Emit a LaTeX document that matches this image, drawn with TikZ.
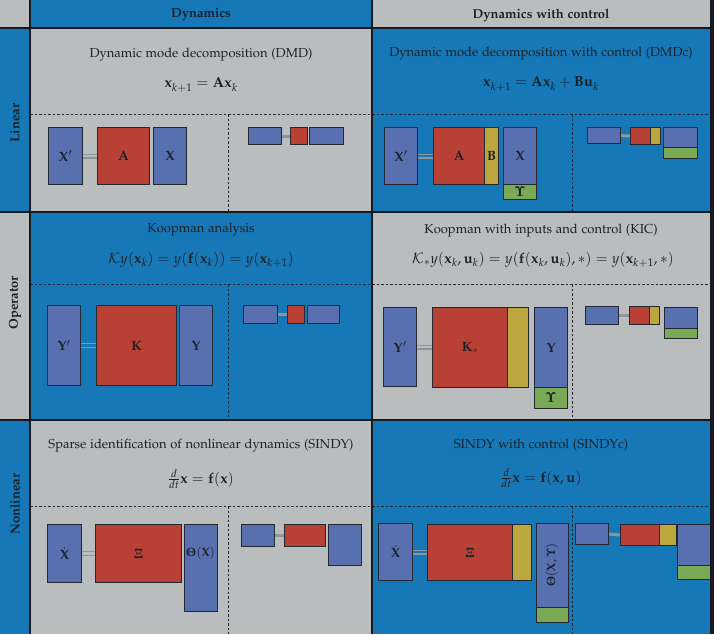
\documentclass[tikz,border=0pt]{standalone}
\usepackage[T1]{fontenc}
\usepackage[sc]{mathpazo}
\usepackage{amsmath}
\usepackage{amssymb}
\usepackage{xcolor}

\definecolor{cellblue}{RGB}{22,120,182}
\definecolor{cellgray}{RGB}{186,189,189}
\definecolor{mblue}{RGB}{88,112,176}
\definecolor{mred}{RGB}{184,64,52}
\definecolor{myellow}{RGB}{188,166,62}
\definecolor{mgreen}{RGB}{122,170,86}
\definecolor{edge}{RGB}{35,40,50}
\definecolor{gridline}{RGB}{22,26,32}
\definecolor{textdark}{RGB}{28,32,40}
\definecolor{eqgray}{RGB}{140,150,154}

\newcommand{\bUps}{\text{\fontencoding{OT1}\fontfamily{cmr}\bfseries\selectfont\char7}}

\begin{document}
\begin{tikzpicture}[x=1pt,y=-1pt,
    grid/.style={draw=gridline,line width=1.8pt},
    cutline/.style={draw=edge,line width=0.9pt,dash pattern=on 2.5pt off 2pt},
    mat/.style n args={3}{draw=edge,line width=1.1pt,fill=#1,minimum width=#2pt,minimum height=#3pt,
        inner sep=0pt,anchor=north west,text=textdark,font=\fontsize{13.5}{15}\selectfont},
    eqline/.style={draw=eqgray,line width=1.3pt},
    eqbar/.style={draw=eqgray,line width=3pt},
    title/.style={text=textdark,font=\fontsize{13}{15}\selectfont},
    eqn/.style={text=textdark,font=\fontsize{14.5}{16}\selectfont},
    head/.style={text=textdark,font=\fontsize{13}{15}\selectfont\bfseries}]

    \useasboundingbox (0,0) rectangle (714,634);

    % cells
    \fill[cellgray] (0,0) rectangle (30,28);
    \fill[cellblue] (30,0) rectangle (372,28);
    \fill[cellgray] (372,0) rectangle (714,28);
    \fill[cellblue] (0,28) rectangle (30,212);
    \fill[cellgray] (30,28) rectangle (372,212);
    \fill[cellblue] (372,28) rectangle (714,212);
    \fill[cellgray] (0,212) rectangle (30,420);
    \fill[cellblue] (30,212) rectangle (372,420);
    \fill[cellgray] (372,212) rectangle (714,420);
    \fill[cellblue] (0,420) rectangle (30,634);
    \fill[cellgray] (30,420) rectangle (372,634);
    \fill[cellblue] (372,420) rectangle (714,634);

    % dashed cuts
    \draw[cutline] (30,114) -- (710,114);
    \draw[cutline] (228,114) -- (228,212);
    \draw[cutline] (572,114) -- (572,212);
    \draw[cutline] (30,284) -- (710,284);
    \draw[cutline] (228,284) -- (228,420);
    \draw[cutline] (572,284) -- (572,420);
    \draw[cutline] (30,506) -- (710,506);
    \draw[cutline] (228,506) -- (228,634);
    \draw[cutline] (572,506) -- (572,634);

    % grid
    \draw[grid] (0,28) -- (714,28);
    \draw[grid] (0,212) -- (714,212);
    \draw[grid] (0,420) -- (714,420);
    \draw[grid] (30,0) -- (30,634);
    \draw[grid] (372,0) -- (372,634);

    % headers
    \node[head] (hdyn) at (201,15) {Dynamics};
    \node[head] (hctl) at (541,15) {Dynamics with control};
    \node[head,rotate=90] (hlin) at (15,123) {Linear};
    \node[head,rotate=90] (hop) at (15,303) {Operator};
    \node[head,rotate=90] (hnon) at (15,504) {Nonlinear};

    % Linear / dynamics
    \node[title] (t1) at (201,55) {Dynamic mode decomposition (DMD)};
    \node[eqn] (e1) at (201,85) {$\mathbf{x}_{k+1} = \mathbf{A}\mathbf{x}_k$};
    \node[mat={mblue}{34}{57}] (Xp1) at (48,127) {$\mathbf{X}'$};
    \node[mat={mred}{52}{57}] (A1) at (97,127) {$\mathbf{A}$};
    \node[mat={mblue}{33}{57}] (X1) at (153,127) {$\mathbf{X}$};
    \draw[eqline] ([yshift=1.8pt]Xp1.east) -- ([yshift=1.8pt]A1.west);
    \draw[eqline] ([yshift=-1.8pt]Xp1.east) -- ([yshift=-1.8pt]A1.west);
    \node[mat={mblue}{33}{17}] (sx1) at (248,127) {};
    \node[mat={mred}{17}{17}] (sa1) at (290,127) {};
    \node[mat={mblue}{34}{17}] (sy1) at (309,127) {};
    \draw[eqbar] (sx1.east) -- (sa1.west);

    % Linear / control
    \node[title] (t2) at (541,54) {Dynamic mode decomposition with control (DMDc)};
    \node[eqn] (e2) at (541,84) {$\mathbf{x}_{k+1} = \mathbf{A}\mathbf{x}_k + \mathbf{B}\mathbf{u}_k$};
    \node[mat={mblue}{33}{57}] (Xp2) at (384,127) {$\mathbf{X}'$};
    \node[mat={mred}{51}{57}] (A2) at (433,127) {$\mathbf{A}$};
    \node[mat={myellow}{14}{57}] (B2) at (484,127) {$\mathbf{B}$};
    \node[mat={mblue}{33}{57}] (X2) at (503,127) {$\mathbf{X}$};
    \node[mat={mgreen}{33}{15}] (U2) at (503,184) {$\bUps$};
    \draw[eqline] ([yshift=1.8pt]Xp2.east) -- ([yshift=1.8pt]A2.west);
    \draw[eqline] ([yshift=-1.8pt]Xp2.east) -- ([yshift=-1.8pt]A2.west);
    \node[mat={mblue}{33}{16}] (sx2) at (587,127) {};
    \node[mat={mred}{20}{17}] (sa2) at (630,127) {};
    \node[mat={myellow}{10}{17}] (sb2) at (650,127) {};
    \node[mat={mblue}{34}{20}] (sy2) at (663,127) {};
    \node[mat={mgreen}{34}{11}] (su2) at (663,147) {};
    \draw[eqbar] (sx2.east) -- (sa2.west);

    % Operator / dynamics
    \node[title] (t3) at (201,230) {Koopman analysis};
    \node[eqn] (e3) at (201,260) {$\mathcal{K}y(\mathbf{x}_k) = y(\mathbf{f}(\mathbf{x}_k)) = y(\mathbf{x}_{k+1})$};
    \node[mat={mblue}{33}{80}] (Yp3) at (47,305) {$\mathbf{Y}'$};
    \node[mat={mred}{80}{80}] (K3) at (96,305) {$\mathbf{K}$};
    \node[mat={mblue}{33}{80}] (Y3) at (179,305) {$\mathbf{Y}$};
    \draw[eqline] ([yshift=1.8pt]Yp3.east) -- ([yshift=1.8pt]K3.west);
    \draw[eqline] ([yshift=-1.8pt]Yp3.east) -- ([yshift=-1.8pt]K3.west);
    \node[mat={mblue}{34}{18}] (sx3) at (243,305) {};
    \node[mat={mred}{17}{18}] (sa3) at (287,305) {};
    \node[mat={mblue}{32}{18}] (sy3) at (307,305) {};
    \draw[eqbar] (sx3.east) -- (sa3.west);

    % Operator / control
    \node[title] (t4) at (541,231) {Koopman with inputs and control (KIC)};
    \node[eqn] (e4) at (543,260) {$\mathcal{K}_{*}y(\mathbf{x}_k,\mathbf{u}_k) = y(\mathbf{f}(\mathbf{x}_k,\mathbf{u}_k),*) = y(\mathbf{x}_{k+1},*)$};
    \node[mat={mblue}{33}{79}] (Yp4) at (383,307) {$\mathbf{Y}'$};
    \node[mat={mred}{75}{80}] (K4) at (432,307) {$\mathbf{K}_{*}$};
    \node[mat={myellow}{21}{80}] (B4) at (507,307) {};
    \node[mat={mblue}{33}{80}] (Y4) at (534,307) {$\mathbf{Y}$};
    \node[mat={mgreen}{33}{21}] (U4) at (534,387) {$\bUps$};
    \draw[eqline] ([yshift=1.8pt]Yp4.east) -- ([yshift=1.8pt]Yp4.east -| K4.west);
    \draw[eqline] ([yshift=-1.8pt]Yp4.east) -- ([yshift=-1.8pt]Yp4.east -| K4.west);
    \node[mat={mblue}{33}{18}] (sx4) at (585,306) {};
    \node[mat={mred}{20}{18}] (sa4) at (629,306) {};
    \node[mat={myellow}{10}{18}] (sb4) at (649,306) {};
    \node[mat={mblue}{33}{21}] (sy4) at (664,307) {};
    \node[mat={mgreen}{33}{10}] (su4) at (664,328) {};
    \draw[eqbar] (sx4.east) -- (sa4.west);

    % Nonlinear / dynamics
    \node[title] (t5) at (201,446) {Sparse identification of nonlinear dynamics (SINDY)};
    \node[eqn] (e5) at (201,479) {$\frac{d}{dt}\mathbf{x} = \mathbf{f}(\mathbf{x})$};
    \node[mat={mblue}{34}{58}] (Xd5) at (47,524) {$\dot{\mathbf{X}}$};
    \node[mat={mred}{86}{58}] (Xi5) at (95,524) {$\boldsymbol{\Xi}$};
    \draw[eqline] ([yshift=1.8pt]Xd5.east) -- ([yshift=1.8pt]Xi5.west);
    \draw[eqline] ([yshift=-1.8pt]Xd5.east) -- ([yshift=-1.8pt]Xi5.west);
    \node[mat={mblue}{33}{87}] (Th5) at (184,524) {};
    \node[text=textdark,font=\fontsize{12}{14}\selectfont] (lTh5) at (200.5,553) {$\boldsymbol{\Theta}(\mathbf{X})$};
    \node[mat={mblue}{33}{22}] (sx5) at (241,524) {};
    \node[mat={mred}{41}{22}] (sa5) at (284,524) {};
    \node[mat={mblue}{33}{41}] (sy5) at (328,524) {};
    \draw[eqbar] (sx5.east) -- (sa5.west);

    % Nonlinear / control
    \node[title] (t6) at (541,445) {SINDY with control (SINDYc)};
    \node[eqn] (e6) at (541,478) {$\frac{d}{dt}\mathbf{x} = \mathbf{f}(\mathbf{x},\mathbf{u})$};
    \node[mat={mblue}{34}{57}] (Xd6) at (378,523) {$\dot{\mathbf{X}}$};
    \node[mat={mred}{85}{56}] (Xi6) at (427,524) {$\boldsymbol{\Xi}$};
    \node[mat={myellow}{19}{56}] (B6) at (512,524) {};
    \draw[eqline] ([yshift=1.8pt]Xd6.east) -- ([yshift=1.8pt]Xd6.east -| Xi6.west);
    \draw[eqline] ([yshift=-1.8pt]Xd6.east) -- ([yshift=-1.8pt]Xd6.east -| Xi6.west);
    \node[mat={mblue}{32}{84}] (Th6) at (536,523) {};
    \node[text=textdark,font=\fontsize{12}{14}\selectfont,rotate=90] (lTh6) at (552,565) {$\boldsymbol{\Theta}(\mathbf{X},\bUps)$};
    \node[mat={mgreen}{32}{15}] (U6) at (536,607) {};
    \node[mat={mblue}{33}{21}] (sx6) at (575,523) {};
    \node[mat={mred}{39}{21}] (sa6) at (620,524) {};
    \node[mat={myellow}{17}{21}] (sb6) at (659,524) {};
    \node[mat={mblue}{36}{41}] (sy6) at (677,524) {};
    \node[mat={mgreen}{36}{14}] (su6) at (677,565) {};
    \draw[eqbar] (sx6.east) -- (sa6.west);

    % right border of the slide
    \fill[gridline] (710,0) rectangle (714,634);
\end{tikzpicture}
\end{document}
